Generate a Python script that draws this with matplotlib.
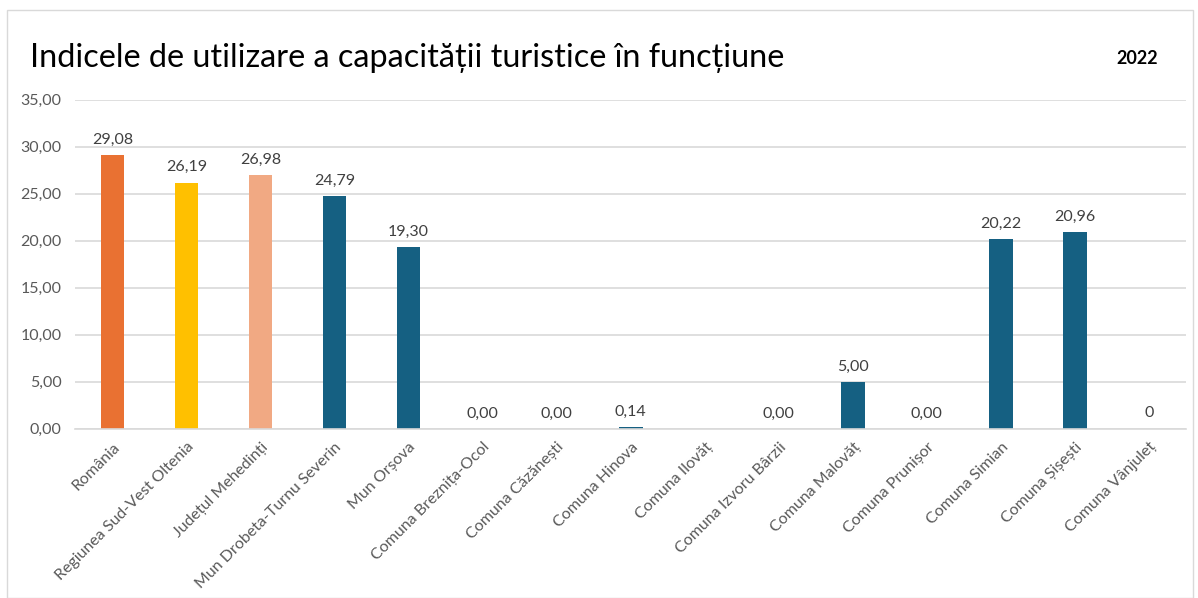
import numpy as np
import matplotlib.pyplot as plt
from matplotlib.patches import Rectangle

plt.rcParams['font.family'] = ['Lato', 'DejaVu Sans']

categories = ["România", "Regiunea Sud-Vest Oltenia", "Județul Mehedinți",
              "Mun Drobeta-Turnu Severin", "Mun Orșova", "Comuna Breznița-Ocol",
              "Comuna Căzănești", "Comuna Hinova", "Comuna Ilovăț",
              "Comuna Izvoru Bârzii", "Comuna Malovăț", "Comuna Prunișor",
              "Comuna Simian", "Comuna Șișești", "Comuna Vânjuleț"]
values = [29.08, 26.19, 26.98, 24.79, 19.30, 0.00, 0.00, 0.14, np.nan,
          0.00, 5.00, 0.00, 20.22, 20.96, 0]
labels = ["29,08", "26,19", "26,98", "24,79", "19,30", "0,00", "0,00", "0,14", "",
          "0,00", "5,00", "0,00", "20,22", "20,96", "0"]
colors = ["#E97132", "#FFC000", "#F1A983"] + ["#156082"] * 12

TXT = "#595959"

fig = plt.figure(figsize=(11.98, 5.98), dpi=100)
ax = fig.add_axes([0.063, 0.283, 0.927, 0.55])

x = np.arange(len(categories))
bars = ax.bar(x, np.nan_to_num(values), width=0.32, color=colors, zorder=2)

for xi, v, lab in zip(x, np.nan_to_num(values), labels):
    ax.annotate(lab, (xi, v), xytext=(0, 6), textcoords="offset points",
                ha="center", va="bottom", fontsize=11.5, color="#404040")

ax.set_xlim(-0.5, len(categories) - 0.5)
ax.set_ylim(0, 35)
ax.set_yticks(np.arange(0, 36, 5))
ax.set_yticklabels([f"{t:.2f}".replace(".", ",") for t in np.arange(0, 36, 5)])
ax.set_xticks(x)
ax.set_xticklabels(categories, rotation=45, ha="right", rotation_mode="anchor")
ax.tick_params(axis="both", length=0, labelsize=11.5, labelcolor=TXT)
ax.tick_params(axis="x", pad=8)
ax.tick_params(axis="y", pad=10)
ax.grid(axis="y", color="#D9D9D9", linewidth=1.2, zorder=0)
for s in ["top", "right", "left"]:
    ax.spines[s].set_visible(False)
ax.spines["bottom"].set_color("#D9D9D9")
ax.spines["bottom"].set_linewidth(1.2)

fig.text(0.025, 0.903, "Indicele de utilizare a capacității turistice în funcțiune",
         fontsize=23.3, color="black", va="center")
fig.text(0.932, 0.903, "2022", fontsize=13, fontweight="bold", va="center")

fig.patches.append(Rectangle((0.006, 0.0), 0.99, 0.983, transform=fig.transFigure,
                             fill=False, edgecolor="#D9D9D9", linewidth=1))

fig.savefig("out.png", dpi=100)
